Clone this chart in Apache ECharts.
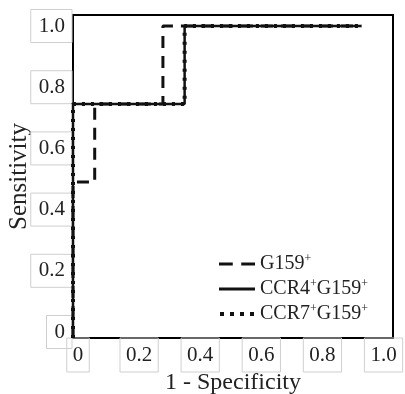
<!DOCTYPE html>
<html>
<head>
<meta charset="utf-8">
<script src="https://cdn.jsdelivr.net/npm/echarts@6/dist/echarts.min.js"></script>
<style>html,body{margin:0;padding:0;background:#fff;}#c{width:405px;height:394px;}</style>
</head>
<body>
<div id="c"></div>
<script>
// ROC step curves (x = 1 - Specificity, y = Sensitivity)
var seriesNames = ['G159+', 'CCR4+G159+', 'CCR7+G159+'];
var g159X = [0, 0, 0.07, 0.07, 0.29, 0.29, 0.93];
var g159Y = [0, 0.5, 0.5, 0.75, 0.75, 1.0, 1.0];
var ccr4X = [0, 0, 0.36, 0.36, 0.93];
var ccr4Y = [0, 0.75, 0.75, 1.0, 1.0];
var ccr7X = [0, 0, 0.36, 0.36, 0.93];
var ccr7Y = [0, 0.75, 0.75, 1.0, 1.0];
var xTicks = [0, 0.2, 0.4, 0.6, 0.8, 1.0];
var yTicks = [0, 0.2, 0.4, 0.6, 0.8, 1.0];
var xTickLabels = ['0', '0.2', '0.4', '0.6', '0.8', '1.0'];
var yTickLabels = ['0', '0.2', '0.4', '0.6', '0.8', '1.0'];
var xTitle = '1 - Specificity';
var yTitle = 'Sensitivity';

function pairs(xs, ys) { return xs.map(function (x, i) { return [x, ys[i]]; }); }
function fmtTick(list, labels) { return function (v) { for (var i = 0; i < list.length; i++) { if (Math.abs(list[i] - v) < 1e-6) return labels[i]; } return ''; }; }

var FONT = 'Liberation Serif';
var boxLabel = {
  fontFamily: FONT, fontSize: 21, color: '#222',
  borderColor: '#cfcfcf', borderWidth: 1
};
// legend icons (36 x 4 box): dashed, solid, dotted
var iconDashed = 'path://M0,0.5h13v3h-13z M21,0.5h13v3h-13z';
var iconSolid = 'path://M0,0.5h36v3h-36z';
var iconDotted = 'path://M0,0h4v4h-4z M10,0h4v4h-4z M20,0h4v4h-4z M30,0h4v4h-4z';

var chart = echarts.init(document.getElementById('c'), null, { renderer: 'canvas' });
chart.setOption({
  backgroundColor: '#fff',
  animation: false,
  grid: { left: 73, top: 15, right: 12, bottom: 56, containLabel: false, outerBoundsMode: 'none',
    show: true, borderColor: '#000', borderWidth: 2, backgroundColor: 'transparent' },
  legend: {
    data: [
      { name: seriesNames[0], icon: iconDashed },
      { name: seriesNames[1], icon: iconSolid },
      { name: seriesNames[2], icon: iconDotted }
    ],
    orient: 'vertical', left: 214, top: 248,
    itemWidth: 36, itemHeight: 4, itemGap: 3,
    itemStyle: { color: '#111', borderWidth: 0 },
    textStyle: {
      fontFamily: FONT, fontSize: 20, color: '#222', lineHeight: 22,
      rich: { sup: { fontFamily: FONT, fontSize: 12, color: '#222', lineHeight: 22, padding: [0, 0, 10, 0] } }
    },
    formatter: function (n) { return n.replace(/\+/g, '{sup|+}'); }
  },
  xAxis: [
    { type: 'value', min: 0, max: 1.032, position: 'bottom',
      axisLine: { show: false }, axisTick: { show: false }, axisLabel: { show: false }, splitLine: { show: false },
      name: xTitle, nameLocation: 'middle', nameGap: 33,
      nameTextStyle: { fontFamily: FONT, fontSize: 24, color: '#222' } },
    { type: 'value', min: -0.0164, max: 1.031, position: 'bottom',
      axisLine: { show: false }, axisTick: { show: false }, splitLine: { show: false },
      axisLabel: Object.assign({ customValues: xTicks, formatter: fmtTick(xTicks, xTickLabels), margin: 0, padding: [7, 6, 6, 6], showMinLabel: true, showMaxLabel: true }, boxLabel) }
  ],
  yAxis: [
    { type: 'value', min: 0, max: 1.035, position: 'left',
      axisLine: { show: false }, axisTick: { show: false }, axisLabel: { show: false }, splitLine: { show: false },
      name: yTitle, nameLocation: 'middle', nameGap: 41,
      nameTextStyle: { fontFamily: FONT, fontSize: 25, color: '#222' } },
    { type: 'value', min: -0.0196, max: 1.036, position: 'left',
      axisLine: { show: false }, axisTick: { show: false }, splitLine: { show: false },
      axisLabel: Object.assign({ customValues: yTicks, formatter: fmtTick(yTicks, yTickLabels), margin: 1, padding: [6, 7, 6, 8], showMinLabel: true, showMaxLabel: true }, boxLabel) }
  ],
  series: [
    { name: seriesNames[1], type: 'line', xAxisIndex: 0, yAxisIndex: 0, data: pairs(ccr4X, ccr4Y),
      symbol: 'none', lineStyle: { color: '#111', width: 2.5, type: 'solid' }, itemStyle: { color: '#111' }, z: 3 },
    { name: seriesNames[0], type: 'line', xAxisIndex: 0, yAxisIndex: 0, data: pairs(g159X, g159Y),
      symbol: 'none', lineStyle: { color: '#111', width: 3, type: [12, 8] }, itemStyle: { color: '#111' }, z: 4 },
    { name: seriesNames[2], type: 'line', xAxisIndex: 0, yAxisIndex: 0, data: pairs(ccr7X, ccr7Y),
      symbol: 'none', lineStyle: { color: '#111', width: 4, type: [3, 6] }, itemStyle: { color: '#111' }, z: 5 }
  ]
});
</script>
</body>
</html>
